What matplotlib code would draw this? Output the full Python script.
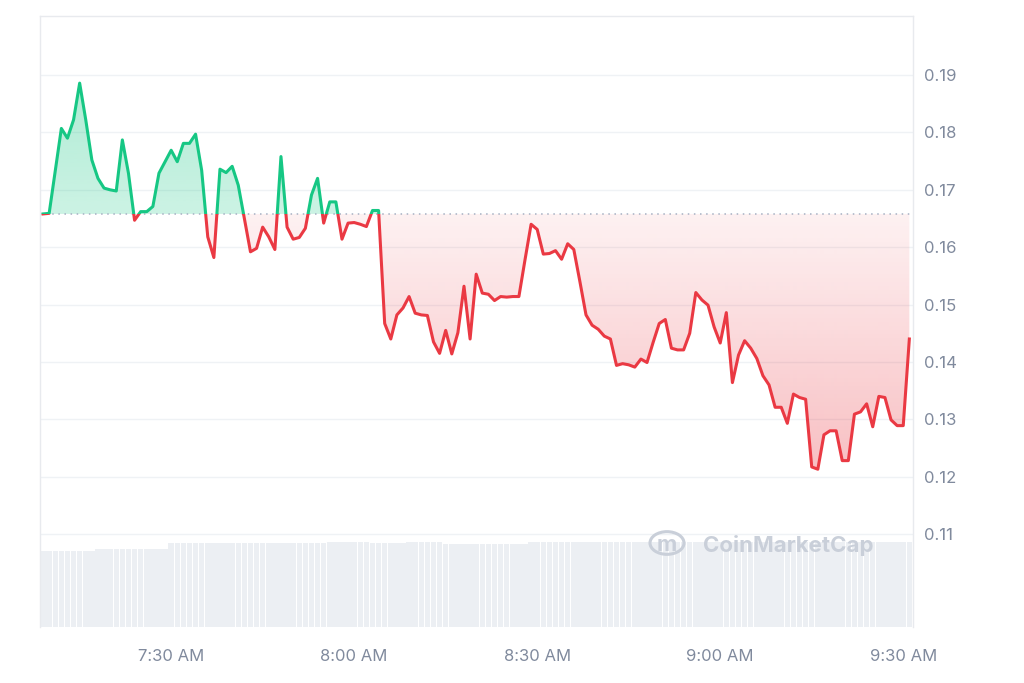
import matplotlib
matplotlib.use("Agg")
import matplotlib.pyplot as plt
from matplotlib.patches import Rectangle, PathPatch, Circle
from matplotlib.path import Path
import numpy as np

# minutes after 7:00 AM
times = [9, 10] + list(range(12, 42)) + list(range(43, 152))
prices = [
    0.1658, 0.1659, 0.1807, 0.1790, 0.1822, 0.1886, 0.1822, 0.1752, 0.1720, 0.1703,
    0.1700, 0.1698, 0.1787, 0.1729, 0.1647, 0.1662, 0.1662, 0.1671, 0.1729, 0.1749,
    0.1769, 0.1749, 0.1781, 0.1781, 0.1797, 0.1734, 0.1618, 0.1582, 0.1736, 0.1730,
    0.1741, 0.1708,
    0.1592, 0.1598, 0.1635, 0.1618, 0.1596, 0.1758, 0.1635, 0.1614, 0.1617, 0.1633,
    0.1691, 0.1720, 0.1642, 0.1679, 0.1679, 0.1614, 0.1642, 0.1643, 0.1640, 0.1636,
    0.1664, 0.1664, 0.1467, 0.1440, 0.1482, 0.1494, 0.1514, 0.1485, 0.1482, 0.1481,
    0.1435, 0.1415, 0.1455, 0.1414, 0.1451, 0.1532, 0.1440, 0.1553, 0.1520, 0.1518,
    0.1507, 0.1514, 0.1513, 0.1514, 0.1514, 0.1578, 0.1640, 0.1631, 0.1588, 0.1589,
    0.1594, 0.1579, 0.1606, 0.1596, 0.1540, 0.1482, 0.1464, 0.1457, 0.1445, 0.1440,
    0.1394, 0.1397, 0.1395, 0.1391, 0.1405, 0.1399, 0.1434, 0.1467, 0.1474, 0.1424,
    0.1421, 0.1421, 0.1450, 0.1521, 0.1508, 0.1499, 0.1461, 0.1433, 0.1486, 0.1364,
    0.1412, 0.1437, 0.1424, 0.1406, 0.1376, 0.1360, 0.1321, 0.1321, 0.1293, 0.1344,
    0.1338, 0.1335, 0.1217, 0.1213, 0.1273, 0.1280, 0.1280, 0.1228, 0.1228, 0.1309,
    0.1313, 0.1327, 0.1287, 0.1340, 0.1338, 0.1299, 0.1289, 0.1289, 0.1440,
]
vol_times = list(range(9, 152))
volume = ([7.6] * 9 + [7.8] * 12 + [8.4] * 26 + [8.5] * 7 + [8.4] * 6
          + [8.5] * 6 + [8.3] * 14 + [8.5] * 63)
baseline = prices[0]
yticks = [0.11, 0.12, 0.13, 0.14, 0.15, 0.16, 0.17, 0.18, 0.19]
xticks = [30, 60, 90, 120, 150]
xlabels = ["7:30 AM", "8:00 AM", "8:30 AM", "9:00 AM", "9:30 AM"]

GREEN = "#16c784"
RED = "#ea3943"
GREY = "#808a9d"
plt.rcParams["font.family"] = ["Inter", "DejaVu Sans"]

fig = plt.figure(figsize=(10.24, 6.83), dpi=100)
ax = fig.add_axes([40 / 1024, 56 / 683, 873 / 1024, 611 / 683])
xmin, xmax = 8.5, 151.6
ymin, ymax = 0.0938, 0.2003

# volume bars on a twin axis
axv = ax.twinx()
axv.set_zorder(0)
ax.set_zorder(1)
ax.patch.set_visible(False)
axv.bar(vol_times, volume, width=0.9, color="#eceff3", linewidth=0)
axv.set_ylim(0, 61)
axv.set_yticks([])
for s in axv.spines.values():
    s.set_visible(False)

t = np.array(times, dtype=float)
p = np.array(prices)

# fills with gradient
def grad_fill(where_above, color, a_near, a_far, y0, y1):
    poly = ax.fill_between(t, p, baseline, where=(p >= baseline) if where_above else (p <= baseline),
                           interpolate=True, color="none", linewidth=0)
    path = Path.make_compound_path(*poly.get_paths())
    patch = PathPatch(path, transform=ax.transData, facecolor="none", edgecolor="none")
    ax.add_patch(patch)
    rgb = matplotlib.colors.to_rgb(color)
    n = 256
    alpha = np.linspace(a_far, a_near, n) if where_above else np.linspace(a_near, a_far, n)
    img = np.zeros((n, 1, 4))
    img[:, 0, :3] = rgb
    img[:, 0, 3] = alpha
    im = ax.imshow(img, extent=[xmin, xmax, y0, y1], aspect="auto", origin="upper",
                   zorder=1, interpolation="bilinear")
    im.set_clip_path(patch)

grad_fill(True, GREEN, 0.22, 0.34, baseline, max(prices))
grad_fill(False, RED, 0.07, 0.32, min(prices), baseline)

# price line split at baseline
above = Rectangle((xmin, baseline), xmax - xmin, 1, transform=ax.transData)
below = Rectangle((xmin, 0), xmax - xmin, baseline, transform=ax.transData)
lg, = ax.plot(t, p, color=GREEN, lw=2.2, zorder=3, solid_joinstyle="round")
lg.set_clip_path(above)
lr, = ax.plot(t, p, color=RED, lw=2.2, zorder=3, solid_joinstyle="round")
lr.set_clip_path(below)

ax.axhline(baseline, color="#a6b0c3", lw=1.1, ls=(0, (1, 3)), zorder=2)

ax.set_xlim(xmin, xmax)
ax.set_ylim(ymin, ymax)
axv.set_xlim(xmin, xmax)
ax.set_yticks(yticks)
ax.set_yticklabels([f"{v:.2f}" for v in yticks])
ax.yaxis.tick_right()
ax.set_xticks(xticks)
ax.set_xticklabels(xlabels)
ax.tick_params(axis="both", length=0, colors=GREY, labelsize=12)
ax.tick_params(axis="y", pad=8)
ax.tick_params(axis="x", pad=16)
ax.grid(axis="y", color="#eff2f5", lw=1, zorder=0)
ax.set_axisbelow(True)
for s in ax.spines.values():
    s.set_color("#e8eaee")
    s.set_linewidth(1)
ax.spines["bottom"].set_visible(False)

# watermark
fig.patches.append(Circle((667 / 1024, (683 - 543) / 683), 17 / 1024, transform=fig.transFigure,
                          fill=False, edgecolor="#c9cfd9", lw=2.2, zorder=5))
fig.text(667 / 1024, (683 - 545) / 683, "m", color="#c9cfd9", fontsize=16, fontweight="bold",
         ha="center", va="center", zorder=6)
fig.text(703 / 1024, (683 - 545) / 683, "CoinMarketCap", color="#c9cfd9", fontsize=16,
         fontweight="bold", ha="left", va="center", zorder=6)

fig.savefig("out.png", dpi=100)
